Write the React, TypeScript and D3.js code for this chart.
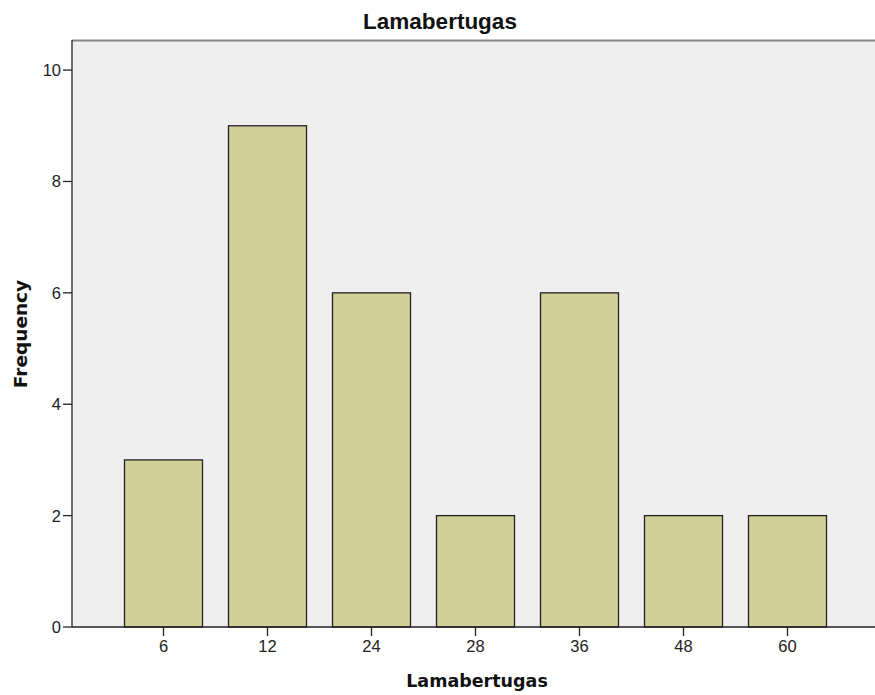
import React from "react";
import * as d3 from "d3";

const categories = ["6", "12", "24", "28", "36", "48", "60"];
const frequencies = [3, 9, 6, 2, 6, 2, 2];
const yTicks = [0, 2, 4, 6, 8, 10];

export default function App() {
  const W = 875, H = 695;
  const left = 72, right = 875, top = 40, bottom = 627;
  const x = d3.scaleBand<string>().domain(categories).range([111.5, 839.5]).paddingInner(0.25).paddingOuter(0.125);
  const y = d3.scaleLinear().domain([0, 10.54]).range([bottom, top]);
  const font = "'Liberation Sans', Arial, sans-serif";
  const boldFont = "'DejaVu Sans', sans-serif";
  return (
    <svg width={W} height={H} style={{ position: "absolute", left: 0, top: 0 }} fontFamily={font}>
      <rect x={0} y={0} width={W} height={H} fill="#fff" />
      <rect x={left} y={top} width={right - left} height={bottom - top} fill="#efefef" />
      <line x1={left} x2={right} y1={top + 0.5} y2={top + 0.5} stroke="#888" strokeWidth={2} />
      {categories.map((c, i) => (
        <rect key={c} x={x(c)!} y={y(frequencies[i])} width={x.bandwidth()} height={bottom - y(frequencies[i])}
          fill="#d3cf98" stroke="#222" strokeWidth={1.3} />
      ))}
      <line x1={left} x2={left} y1={top} y2={bottom} stroke="#222" strokeWidth={1.3} />
      <line x1={left} x2={right} y1={bottom} y2={bottom} stroke="#222" strokeWidth={1.3} />
      {yTicks.map(t => (
        <g key={t}>
          <line x1={left - 9} x2={left} y1={y(t)} y2={y(t)} stroke="#222" strokeWidth={1.3} />
          <text x={left - 11} y={y(t)} dy="0.36em" textAnchor="end" fontSize={16.5} fill="#222">{t}</text>
        </g>
      ))}
      {categories.map(c => {
        const cx = x(c)! + x.bandwidth() / 2;
        return (
          <g key={c}>
            <line x1={cx} x2={cx} y1={bottom} y2={bottom + 9} stroke="#222" strokeWidth={1.3} />
            <text x={cx} y={bottom + 25} textAnchor="middle" fontSize={16.5} fill="#222">{c}</text>
          </g>
        );
      })}
      <text x={440} y={29} textAnchor="middle" fontSize={22.5} fontWeight="bold" fill="#111">Lamabertugas</text>
      <text x={477} y={687} textAnchor="middle" fontSize={17.5} fontWeight="bold" fontFamily={boldFont} fill="#111">Lamabertugas</text>
      <text transform={`translate(27,334) rotate(-90)`} textAnchor="middle" fontSize={18.5} fontWeight="bold" fontFamily={boldFont} fill="#111">Frequency</text>
    </svg>
  );
}
